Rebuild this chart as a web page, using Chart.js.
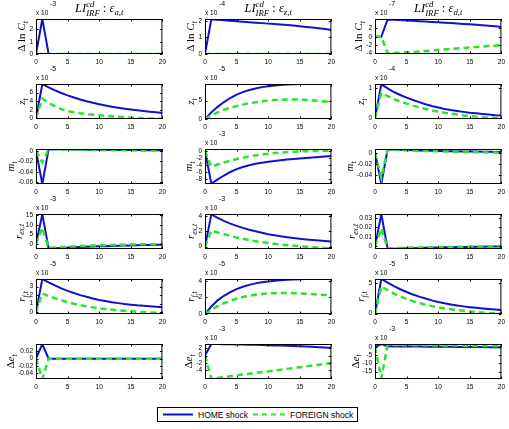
<!DOCTYPE html>
<html>
<head>
<meta charset="utf-8">
<script src="https://cdn.jsdelivr.net/npm/chart.js@4.4.1/dist/chart.umd.min.js"></script>
<style>
  html, body { margin: 0; padding: 0; background: #fff; }
  #fig { position: relative; width: 509px; height: 429px; overflow: hidden; }
  #fig canvas { position: absolute; }
  #legend { position: absolute; left: 157px; top: 407px; }
</style>
</head>
<body>
<div id="fig">
  <svg id="legend" width="201" height="15">
    <rect x="0.5" y="0.5" width="200" height="14" fill="#fff" stroke="#000" stroke-width="1"/>
    <line x1="6" y1="7.5" x2="36" y2="7.5" stroke="#1010D0" stroke-width="2"/>
    <text x="41" y="10.5" font-family="Liberation Sans, Arial" font-size="8.5">HOME shock</text>
    <line x1="96" y1="7.5" x2="128" y2="7.5" stroke="#26E626" stroke-width="2" stroke-dasharray="5 4"/>
    <text x="133" y="10.5" font-family="Liberation Sans, Arial" font-size="8.5">FOREIGN shock</text>
  </svg>
</div>
<script>
// Réponses impulsionnelles LI_IRF^cd : 6 variables x 3 chocs (a, z, d), HOME vs FOREIGN.
// Valeurs, dans l'unité affichée (voir l'exposant "x 10^n" de chaque panneau).

const periods = [0, 1, 2, 3, 4, 5, 6, 7, 8, 9, 10, 11, 12, 13, 14, 15, 16, 17, 18, 19, 20];
const xTicks  = [0, 5, 10, 15, 20];
const shocks  = ['a,t', 'z,t', 'd,t'];

// --- Δ ln C_t ---
const dlnC_a_home    = [0, 2.85, 0, 0, 0, 0, 0, 0, 0, 0, 0, 0, 0, 0, 0, 0, 0, 0, 0, 0, 0];
const dlnC_a_foreign = [0, 0, 0, 0, 0, 0, 0, 0, 0, 0, 0, 0, 0, 0, 0, 0, 0, 0, 0, 0, 0];
const dlnC_z_home    = [0, 2.10, 2.08, 2.05, 2.02, 1.99, 1.96, 1.93, 1.90, 1.87, 1.84, 1.81, 1.78, 1.75, 1.72, 1.68, 1.64, 1.60, 1.56, 1.51, 1.46];
const dlnC_z_foreign = [0, 0, 0, 0, 0, 0, 0, 0, 0, 0, 0, 0, 0, 0, 0, 0, 0, 0, 0, 0, 0];
const dlnC_d_home    = [0, 0, 4.2, 4.13, 4.05, 3.96, 3.87, 3.78, 3.69, 3.6, 3.5, 3.4, 3.3, 3.2, 3.1, 3.0, 2.9, 2.78, 2.66, 2.53, 2.38];
const dlnC_d_foreign = [0, 0, -4.0, -3.97, -3.9, -3.8, -3.7, -3.58, -3.46, -3.34, -3.22, -3.1, -2.98, -2.86, -2.74, -2.62, -2.5, -2.39, -2.28, -2.17, -2.06];

// --- z_t ---
const z_a_home    = [0, 8.0, 7.2, 6.5, 5.9, 5.35, 4.85, 4.4, 4.0, 3.62, 3.3, 3.0, 2.72, 2.47, 2.25, 2.05, 1.87, 1.7, 1.55, 1.4, 1.25];
const z_a_foreign = [0, 4.6, 3.6, 2.8, 2.15, 1.7, 1.4, 1.18, 1.0, 0.86, 0.7, 0.58, 0.46, 0.35, 0.24, 0.14, 0.07, 0.02, -0.02, -0.05, -0.07];
const z_z_home    = [0, 1.8, 3.3, 4.6, 5.7, 6.6, 7.3, 7.85, 8.3, 8.65, 8.9, 9.1, 9.25, 9.35, 9.42, 9.47, 9.5, 9.5, 9.5, 9.5, 9.5];
const z_z_foreign = [0, 1.0, 1.8, 2.5, 3.05, 3.5, 3.9, 4.25, 4.55, 4.8, 5.0, 5.15, 5.25, 5.3, 5.3, 5.25, 5.15, 5.05, 4.9, 4.75, 4.6];
const z_d_home    = [0, 1.14, 1.0, 0.88, 0.78, 0.69, 0.61, 0.54, 0.47, 0.41, 0.36, 0.31, 0.27, 0.24, 0.21, 0.18, 0.16, 0.14, 0.12, 0.1, 0.09];
const z_d_foreign = [0, 0.85, 0.74, 0.64, 0.56, 0.49, 0.42, 0.36, 0.31, 0.26, 0.22, 0.18, 0.15, 0.12, 0.09, 0.07, 0.05, 0.03, 0.02, 0.01, 0.0];

// --- m_t ---
const m_a_home    = [0, -0.063, 0.0034, 0.0032, 0.003, 0.0029, 0.0027, 0.0026, 0.0024, 0.0023, 0.0021, 0.002, 0.0019, 0.0018, 0.0017, 0.0016, 0.0015, 0.0014, 0.0013, 0.0012, 0.0011];
const m_a_foreign = [0, -0.022, 0.0032, 0.003, 0.0028, 0.0026, 0.0024, 0.0022, 0.002, 0.0018, 0.0016, 0.0014, 0.0012, 0.0011, 0.001, 0.0009, 0.0008, 0.0007, 0.0006, 0.0005, 0.0004];
const m_z_home    = [0, -9.3, -8.1, -7.0, -6.0, -5.2, -4.6, -4.1, -3.7, -3.4, -3.1, -2.9, -2.7, -2.5, -2.35, -2.2, -2.05, -1.9, -1.75, -1.6, -1.5];
const m_z_foreign = [0, -4.5, -3.9, -3.3, -2.8, -2.35, -1.95, -1.6, -1.3, -1.05, -0.85, -0.65, -0.5, -0.38, -0.28, -0.2, -0.13, -0.08, -0.04, -0.01, 0.0];
const m_d_home    = [0, -0.056, 0.0062, 0.0058, 0.0054, 0.005, 0.0046, 0.0043, 0.004, 0.0037, 0.0034, 0.0031, 0.0029, 0.0027, 0.0025, 0.0023, 0.0021, 0.0019, 0.0017, 0.0015, 0.0013];
const m_d_foreign = [0, -0.045, 0.0058, 0.0053, 0.0048, 0.0044, 0.004, 0.0036, 0.0032, 0.0029, 0.0026, 0.0023, 0.002, 0.0017, 0.0015, 0.0012, 0.001, 0.0008, 0.0006, 0.0004, 0.0002];

// --- r_ex,t ---
const rex_a_home    = [0, 15.5, -2.3, -2.1, -1.95, -1.8, -1.65, -1.5, -1.38, -1.25, -1.13, -1.02, -0.92, -0.82, -0.72, -0.63, -0.55, -0.47, -0.4, -0.33, -0.27];
const rex_a_foreign = [0, 8.5, -1.9, -1.7, -1.5, -1.3, -1.15, -1.0, -0.87, -0.75, -0.63, -0.53, -0.43, -0.35, -0.27, -0.2, -0.13, -0.07, -0.02, 0.02, 0.05];
const rex_z_home    = [0, 4.2, 3.75, 3.35, 3.0, 2.7, 2.45, 2.2, 2.0, 1.8, 1.62, 1.48, 1.35, 1.24, 1.13, 1.03, 0.95, 0.87, 0.8, 0.74, 0.68];
const rex_z_foreign = [0, 2.1, 1.85, 1.62, 1.4, 1.2, 1.02, 0.86, 0.72, 0.59, 0.47, 0.37, 0.28, 0.2, 0.13, 0.06, 0.0, -0.06, -0.12, -0.18, -0.23];
const rex_d_home    = [0, 0.034, -0.0026, -0.0024, -0.0022, -0.002, -0.0018, -0.0016, -0.0014, -0.0012, -0.001, -0.0009, -0.0008, -0.0007, -0.0006, -0.0005, -0.0004, -0.0003, -0.0002, -0.0001, 0];
const rex_d_foreign = [0, 0.019, -0.002, -0.0018, -0.0016, -0.0014, -0.0012, -0.001, -0.0009, -0.0008, -0.0007, -0.0006, -0.0005, -0.0004, -0.0003, -0.0002, -0.0001, 0, 0.0001, 0.0001, 0.0002];

// --- r_f,t ---
const rf_a_home    = [0, 3.9, 3.5, 3.15, 2.8, 2.5, 2.25, 2.0, 1.8, 1.6, 1.43, 1.3, 1.17, 1.06, 0.96, 0.88, 0.8, 0.74, 0.68, 0.63, 0.58];
const rf_a_foreign = [0, 2.2, 1.9, 1.62, 1.38, 1.17, 0.98, 0.82, 0.68, 0.56, 0.45, 0.36, 0.28, 0.21, 0.15, 0.09, 0.04, 0.0, -0.04, -0.08, -0.12];
const rf_z_home    = [0, 0.9, 1.65, 2.2, 2.65, 3.0, 3.3, 3.52, 3.7, 3.83, 3.93, 4.02, 4.08, 4.13, 4.17, 4.2, 4.22, 4.23, 4.23, 4.23, 4.22];
const rf_z_foreign = [0, 0.5, 0.95, 1.3, 1.6, 1.85, 2.05, 2.2, 2.32, 2.42, 2.48, 2.52, 2.54, 2.54, 2.52, 2.49, 2.45, 2.4, 2.35, 2.29, 2.22];
const rf_d_home    = [0, 5.6, 5.0, 4.45, 3.95, 3.5, 3.1, 2.75, 2.45, 2.15, 1.9, 1.68, 1.5, 1.33, 1.18, 1.05, 0.94, 0.84, 0.75, 0.67, 0.6];
const rf_d_foreign = [0, 4.4, 3.8, 3.25, 2.78, 2.37, 2.02, 1.72, 1.45, 1.22, 1.02, 0.85, 0.7, 0.57, 0.46, 0.36, 0.27, 0.19, 0.12, 0.06, 0.0];

// --- Δe_t ---
const de_a_home    = [0, 0.0395, 0, 0, 0, 0, 0, 0, 0, 0, 0, 0, 0, 0, 0, 0, 0, 0, 0, 0, 0];
const de_a_foreign = [0, -0.055, 0, 0, 0, 0, 0, 0, 0, 0, 0, 0, 0, 0, 0, 0, 0, 0, 0, 0, 0];
const de_z_home    = [0, 3.1, 3.08, 3.05, 3.02, 2.99, 2.95, 2.91, 2.87, 2.83, 2.78, 2.73, 2.67, 2.61, 2.55, 2.48, 2.41, 2.33, 2.24, 2.14, 2.04];
const de_z_foreign = [0, -6.25, -6.0, -5.78, -5.56, -5.34, -5.12, -4.9, -4.68, -4.46, -4.24, -4.02, -3.8, -3.58, -3.36, -3.14, -2.92, -2.7, -2.48, -2.26, -2.06];
const de_d_home    = [0, 1.8, 0.45, 0.42, 0.39, 0.36, 0.33, 0.3, 0.27, 0.24, 0.21, 0.18, 0.15, 0.12, 0.09, 0.06, 0.03, 0.0, -0.03, -0.06, -0.09];
const de_d_foreign = [0, -19.0, 1.25, 1.22, 1.19, 1.16, 1.13, 1.1, 1.07, 1.04, 1.01, 0.98, 0.95, 0.92, 0.89, 0.86, 0.83, 0.8, 0.77, 0.74, 0.71];

// Libellés d'axe y (morceaux : n = droit, i = italique, sub = indice)
const rowLabels = [
  [['Δ ln ', 'n'], ['C', 'i'], ['t', 'sub']],
  [['z', 'i'], ['t', 'sub']],
  [['m', 'i'], ['t', 'sub']],
  [['r', 'i'], ['ex,t', 'sub']],
  [['r', 'i'], ['f,t', 'sub']],
  [['Δ', 'n'], ['e', 'i'], ['t', 'sub']],
];

// Panneaux : ligne, colonne, séries, bornes, graduations, exposant
const panels = [
  [0, 0, dlnC_a_home, dlnC_a_foreign, 0, 2.85, [0, 1, 2], -3],
  [0, 1, dlnC_z_home, dlnC_z_foreign, 0, 2.12, [0, 1, 2], -4],
  [0, 2, dlnC_d_home, dlnC_d_foreign, -4.2, 4.3, [-4, -2, 0, 2], -7],
  [1, 0, z_a_home, z_a_foreign, -0.15, 8.0, [0, 2, 4, 6], -5],
  [1, 1, z_z_home, z_z_foreign, 0, 9.5, [0, 5], -5],
  [1, 2, z_d_home, z_d_foreign, -0.03, 1.15, [0, 1], -4],
  [2, 0, m_a_home, m_a_foreign, -0.063, 0.0036, [-0.06, -0.04, -0.02, 0], null],
  [2, 1, m_z_home, m_z_foreign, -9.4, 0.5, [-8, -6, -4, -2, 0], -3],
  [2, 2, m_d_home, m_d_foreign, -0.056, 0.0068, [-0.04, -0.02, 0], null],
  [3, 0, rex_a_home, rex_a_foreign, -2.5, 15.6, [0, 5, 10, 15], -3],
  [3, 1, rex_z_home, rex_z_foreign, -0.3, 4.25, [0, 2, 4], -3],
  [3, 2, rex_d_home, rex_d_foreign, -0.0027, 0.034, [0, 0.01, 0.02, 0.03], null],
  [4, 0, rf_a_home, rf_a_foreign, -0.22, 3.9, [0, 1, 2, 3], -5],
  [4, 1, rf_z_home, rf_z_foreign, 0, 4.23, [0, 2, 4], -5],
  [4, 2, rf_d_home, rf_d_foreign, -0.05, 5.6, [0, 5], -5],
  [5, 0, de_a_home, de_a_foreign, -0.055, 0.0395, [-0.04, -0.02, 0, 0.02], null],
  [5, 1, de_z_home, de_z_foreign, -6.3, 3.1, [-4, -2, 0, 2], -3],
  [5, 2, de_d_home, de_d_foreign, -19.5, 1.9, [-15, -10, -5, 0], -3],
];

const blue  = '#1010D0';
const green = '#26E626';
const tickFont = { family: 'Liberation Sans, Arial', size: 6.5 };
const serif = '"Liberation Serif", "DejaVu Serif", serif';

const colLeft = [36, 205, 375];
const plotW = 128, plotH = 35, rowTop = 19, rowStep = 65;
const padL = 36, padT = 19, padR = 6, padB = 12;

// Texte "LaTeX" : morceaux normaux, italiques, indices, exposants, et empilés (sup + sub)
function richFont(kind, size) {
  const s = (kind === 'sub' || kind === 'sup' || kind === 'stack') ? size * 0.7 : size;
  return (kind === 'n' ? '' : 'italic ') + s + 'px ' + serif;
}
function richWidth(ctx, parts, size) {
  let w = 0;
  parts.forEach(([t, k, t2]) => {
    ctx.font = richFont(k, size);
    w += k === 'stack' ? Math.max(ctx.measureText(t).width, ctx.measureText(t2).width) : ctx.measureText(t).width;
  });
  return w;
}
function drawRich(ctx, parts, x, y, size) {
  ctx.textAlign = 'left';
  ctx.textBaseline = 'alphabetic';
  parts.forEach(([t, k, t2]) => {
    ctx.font = richFont(k, size);
    if (k === 'stack') {
      ctx.fillText(t, x, y - size * 0.42);
      ctx.fillText(t2, x, y + size * 0.28);
      x += Math.max(ctx.measureText(t).width, ctx.measureText(t2).width);
    } else {
      ctx.fillText(t, x, k === 'sub' ? y + size * 0.25 : k === 'sup' ? y - size * 0.4 : y);
      x += ctx.measureText(t).width;
    }
  });
}

const fmt = (v) => String(+v.toPrecision(6));

// Cadre façon MATLAB : boîte, graduations intérieures, exposant, libellés
const matlabAxes = {
  id: 'matlabAxes',
  afterDraw(chart, args, opts) {
    const { ctx, chartArea: a, scales: { x, y } } = chart;
    ctx.save();
    ctx.strokeStyle = '#000';
    ctx.lineWidth = 1;
    ctx.strokeRect(a.left + 0.5, a.top + 0.5, a.right - a.left - 1, a.bottom - a.top - 1);
    const tl = 2.5;
    ctx.beginPath();
    x.ticks.forEach(t => {
      const px = Math.round(x.getPixelForValue(t.value)) + 0.5;
      ctx.moveTo(px, a.bottom); ctx.lineTo(px, a.bottom - tl);
      ctx.moveTo(px, a.top); ctx.lineTo(px, a.top + tl);
    });
    y.ticks.forEach(t => {
      const py = Math.round(y.getPixelForValue(t.value)) + 0.5;
      ctx.moveTo(a.left, py); ctx.lineTo(a.left + tl, py);
      ctx.moveTo(a.right, py); ctx.lineTo(a.right - tl, py);
    });
    ctx.stroke();

    ctx.fillStyle = '#000';
    if (opts.exponent !== null) {
      ctx.font = '6.5px Liberation Sans, Arial';
      ctx.textAlign = 'left';
      ctx.fillText('x 10', a.left, a.top - 4);
      ctx.font = '7px Liberation Sans, Arial';
      ctx.fillText(String(opts.exponent), a.left + 14, a.top - 13.5);
    }

    // libellé y, à gauche des graduations
    ctx.font = tickFont.size + 'px ' + tickFont.family;
    const wTick = Math.max(...y.ticks.map(t => ctx.measureText(fmt(t.value)).width));
    const size = 11;
    const cx = a.left - 3 - wTick - 3 - size * 0.45;
    const cy = (a.top + a.bottom) / 2;
    ctx.save();
    ctx.translate(cx, cy);
    ctx.rotate(-Math.PI / 2);
    const w = richWidth(ctx, opts.ylabel, size);
    drawRich(ctx, opts.ylabel, -w / 2, size * 0.35, size);
    ctx.restore();

    if (opts.title) {
      const ts = 12.5;
      const tw = richWidth(ctx, opts.title, ts);
      drawRich(ctx, opts.title, (a.left + a.right) / 2 - tw / 2, 12, ts);
    }
    ctx.restore();
  },
};

const fig = document.getElementById('fig');
const toPoints = (vals) => periods.map((t, i) => ({ x: t, y: vals[i] }));

panels.forEach(([r, c, home, foreign, yMin, yMax, yTicks, exponent]) => {
  const cv = document.createElement('canvas');
  const w = padL + plotW + padR, h = padT + plotH + padB;
  cv.width = w; cv.height = h;
  cv.style.left = (colLeft[c] - padL) + 'px';
  cv.style.top = (rowTop + r * rowStep - padT) + 'px';
  cv.style.width = w + 'px'; cv.style.height = h + 'px';
  fig.insertBefore(cv, fig.firstChild);

  const title = r === 0
    ? [['LI', 'i'], ['cd', 'stack', 'IRF'], [' : ', 'n'], ['ε', 'i'], [shocks[c], 'sub']]
    : null;

  new Chart(cv, {
    type: 'line',
    data: {
      datasets: [
        { label: 'HOME shock', data: toPoints(home), borderColor: blue, borderWidth: 2, pointRadius: 0, tension: 0, order: 1 },
        { label: 'FOREIGN shock', data: toPoints(foreign), borderColor: green, borderWidth: 2.5, borderDash: [6, 4], pointRadius: 0, tension: 0, order: 0 },
      ],
    },
    options: {
      responsive: false,
      animation: false,
      events: [],
      layout: { padding: { top: padT, right: padR, left: 0, bottom: 0 } },
      plugins: {
        legend: { display: false },
        tooltip: { enabled: false },
        matlabAxes: { exponent, ylabel: rowLabels[r], title },
      },
      scales: {
        x: {
          type: 'linear', min: 0, max: 20,
          afterBuildTicks: (s) => { s.ticks = xTicks.map(v => ({ value: v })); },
          afterFit: (s) => { s.height = padB; },
          grid: { display: false, drawTicks: false },
          border: { display: false },
          ticks: { font: tickFont, color: '#000', padding: 4, maxRotation: 0, autoSkip: false, callback: fmt },
        },
        y: {
          min: yMin, max: yMax,
          afterBuildTicks: (s) => { s.ticks = yTicks.map(v => ({ value: v })); },
          afterFit: (s) => { s.width = padL; },
          grid: { display: false, drawTicks: false },
          border: { display: false },
          ticks: { font: tickFont, color: '#000', padding: 3, autoSkip: false, callback: fmt },
        },
      },
    },
    plugins: [matlabAxes],
  });
});
</script>
</body>
</html>
